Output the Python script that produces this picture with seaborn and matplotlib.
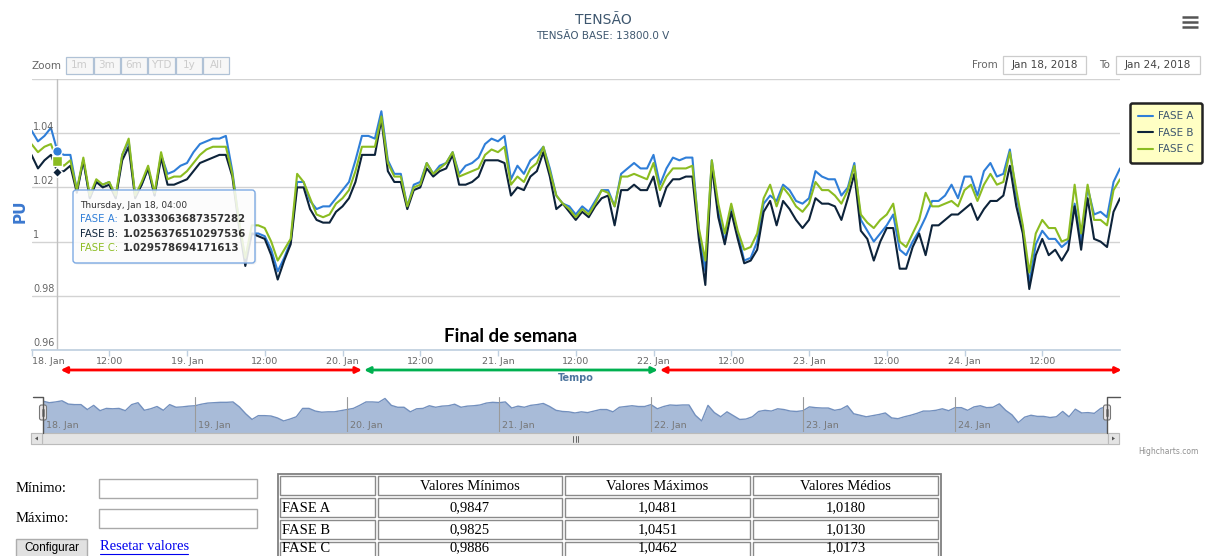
import pandas as pd
import matplotlib.pyplot as plt
import matplotlib.dates as mdates
from matplotlib.patches import Rectangle, FancyBboxPatch, Polygon
import seaborn as sns

W, H = 1205, 556

# Tensão em PU, uma leitura por hora desde 18/01/2018 00:00
fase_a = [1.041, 1.037, 1.039, 1.042, 1.0333063687357282, 1.032, 1.032, 1.019, 1.030, 1.016, 1.022, 1.021,
          1.022, 1.016, 1.032, 1.037, 1.017, 1.021, 1.027, 1.017, 1.032, 1.025, 1.026, 1.028,
          1.029, 1.033, 1.036, 1.037, 1.038, 1.038, 1.039, 1.026, 1.008, 0.993, 1.003, 1.003,
          1.002, 0.997, 0.989, 0.994, 1.000, 1.022, 1.022, 1.015, 1.012, 1.013, 1.013, 1.016,
          1.019, 1.022, 1.030, 1.039, 1.039, 1.038, 1.0481, 1.030, 1.025, 1.025, 1.013, 1.021,
          1.022, 1.029, 1.025, 1.028, 1.029, 1.033, 1.025, 1.028, 1.029, 1.031, 1.036, 1.038,
          1.037, 1.039, 1.023, 1.028, 1.025, 1.030, 1.032, 1.035, 1.027, 1.017, 1.014, 1.013,
          1.010, 1.013, 1.011, 1.015, 1.019, 1.019, 1.013, 1.025, 1.027, 1.029, 1.027, 1.027,
          1.032, 1.021, 1.027, 1.031, 1.030, 1.031, 1.031, 1.004, 0.989, 1.030, 1.011, 1.000,
          1.013, 1.003, 0.993, 0.994, 1.000, 1.014, 1.017, 1.015, 1.021, 1.019, 1.015, 1.014,
          1.016, 1.026, 1.024, 1.023, 1.023, 1.017, 1.020, 1.029, 1.008, 1.004, 1.000, 1.003,
          1.006, 1.010, 0.997, 0.995, 1.000, 1.004, 1.009, 1.015, 1.015, 1.017, 1.021, 1.016,
          1.024, 1.024, 1.017, 1.026, 1.029, 1.024, 1.025, 1.034, 1.017, 1.005, 0.9847, 0.999,
          1.004, 1.001, 1.001, 0.998, 1.000, 1.014, 1.000, 1.020, 1.010, 1.011, 1.009, 1.022,
          1.027]
fase_b = [1.032, 1.027, 1.030, 1.032, 1.0256376510297536, 1.026, 1.028, 1.018, 1.030, 1.016, 1.022, 1.020,
          1.021, 1.016, 1.030, 1.035, 1.016, 1.021, 1.027, 1.017, 1.031, 1.021, 1.021, 1.022,
          1.023, 1.026, 1.029, 1.030, 1.031, 1.032, 1.032, 1.024, 1.006, 0.991, 1.003, 1.002,
          1.001, 0.995, 0.986, 0.993, 0.999, 1.020, 1.020, 1.012, 1.008, 1.007, 1.007, 1.011,
          1.013, 1.016, 1.022, 1.032, 1.032, 1.032, 1.0451, 1.026, 1.022, 1.022, 1.012, 1.019,
          1.020, 1.027, 1.024, 1.026, 1.027, 1.032, 1.021, 1.021, 1.022, 1.024, 1.030, 1.030,
          1.030, 1.029, 1.017, 1.020, 1.019, 1.024, 1.026, 1.033, 1.024, 1.012, 1.014, 1.011,
          1.008, 1.011, 1.009, 1.013, 1.016, 1.017, 1.006, 1.019, 1.019, 1.021, 1.019, 1.019,
          1.024, 1.013, 1.020, 1.023, 1.023, 1.024, 1.024, 1.001, 0.984, 1.028, 1.009, 0.999,
          1.011, 1.001, 0.992, 0.993, 0.997, 1.011, 1.015, 1.006, 1.015, 1.012, 1.008, 1.005,
          1.008, 1.016, 1.014, 1.014, 1.013, 1.008, 1.016, 1.025, 1.004, 1.001, 0.993, 1.000,
          1.005, 1.005, 0.990, 0.990, 0.998, 1.003, 0.995, 1.006, 1.006, 1.008, 1.010, 1.010,
          1.012, 1.014, 1.008, 1.012, 1.015, 1.015, 1.017, 1.028, 1.013, 1.003, 0.9825, 0.995,
          1.001, 0.995, 0.997, 0.993, 0.997, 1.013, 0.997, 1.016, 1.001, 1.000, 0.998, 1.011,
          1.016]
fase_c = [1.036, 1.033, 1.035, 1.036, 1.029578694171613, 1.028, 1.030, 1.019, 1.031, 1.017, 1.023, 1.021,
          1.022, 1.017, 1.032, 1.038, 1.017, 1.022, 1.028, 1.018, 1.033, 1.023, 1.024, 1.024,
          1.026, 1.029, 1.032, 1.034, 1.035, 1.035, 1.035, 1.025, 1.008, 0.994, 1.006, 1.006,
          1.005, 1.000, 0.993, 0.997, 1.001, 1.025, 1.022, 1.016, 1.010, 1.009, 1.010, 1.014,
          1.016, 1.019, 1.026, 1.035, 1.035, 1.035, 1.0462, 1.029, 1.024, 1.024, 1.013, 1.020,
          1.021, 1.029, 1.025, 1.027, 1.029, 1.033, 1.024, 1.025, 1.026, 1.027, 1.032, 1.034,
          1.033, 1.035, 1.021, 1.024, 1.022, 1.027, 1.029, 1.035, 1.026, 1.017, 1.014, 1.012,
          1.009, 1.012, 1.010, 1.014, 1.019, 1.018, 1.013, 1.024, 1.024, 1.025, 1.024, 1.023,
          1.029, 1.019, 1.024, 1.027, 1.027, 1.027, 1.028, 1.005, 0.993, 1.030, 1.014, 1.003,
          1.014, 1.004, 0.997, 0.998, 1.003, 1.016, 1.021, 1.013, 1.020, 1.017, 1.013, 1.011,
          1.014, 1.022, 1.019, 1.019, 1.017, 1.014, 1.019, 1.028, 1.010, 1.007, 1.005, 1.008,
          1.010, 1.014, 1.000, 0.998, 1.003, 1.008, 1.018, 1.013, 1.013, 1.014, 1.015, 1.013,
          1.019, 1.021, 1.015, 1.021, 1.025, 1.021, 1.022, 1.033, 1.019, 1.006, 0.9886, 1.003,
          1.008, 1.005, 1.005, 1.000, 1.001, 1.021, 1.003, 1.021, 1.008, 1.008, 1.006, 1.019,
          1.023]
tempo = pd.date_range("2018-01-18 00:00", periods=len(fase_a), freq="h")

dias = pd.date_range("2018-01-18", "2018-01-24", freq="D")
marcas_x = pd.date_range("2018-01-18", "2018-01-24 12:00", freq="12h")
rotulos_x = [f"{t.day}. Jan" if t.hour == 0 else "12:00" for t in marcas_x]
niveis_y = [0.96, 0.98, 1.00, 1.02, 1.04, 1.06]
rotulos_y = ["0.96", "0.98", "1", "1.02", "1.04", ""]

# periodos: dias uteis / final de semana
setas = [("2018-01-18 04:30", "2018-01-20 03:00", "#FF0000"),
         ("2018-01-20 03:20", "2018-01-22 00:40", "#00B050"),
         ("2018-01-22 01:00", "2018-01-25 00:15", "#FF0000")]

linhas_tab = ["FASE A", "FASE B", "FASE C"]
cab_tab = ["", "Valores Mínimos", "Valores Máximos", "Valores Médios"]
minimos = ["0,9847", "0,9825", "0,9886"]
maximos = ["1,0481", "1,0451", "1,0462"]
medios = ["1,0180", "1,0130", "1,0173"]

cores = {"FASE A": "#2f7ed8", "FASE B": "#0d233a", "FASE C": "#8bbc21"}

sns.set_theme(style="white")
plt.rcParams["font.family"] = ["DejaVu Sans"]

fig = plt.figure(figsize=(W / 100, H / 100), dpi=100)
fig.patch.set_facecolor("white")


def caixa(x0, y0, x1, y1):
    return [x0 / W, 1 - y1 / H, (x1 - x0) / W, (y1 - y0) / H]


def num(t):
    return mdates.date2num(pd.Timestamp(t).to_pydatetime())


# --- grafico principal ---
ax = fig.add_axes(caixa(31.5, 79, 1120, 350))
df = pd.DataFrame({"Tempo": tempo, "FASE A": fase_a, "FASE B": fase_b, "FASE C": fase_c})
df_long = df.melt(id_vars="Tempo", var_name="Fase", value_name="PU")
sns.lineplot(data=df_long, x="Tempo", y="PU", hue="Fase", palette=cores, linewidth=1.5, ax=ax)

ax.set_xlim(num("2018-01-18"), num("2018-01-25"))
ax.set_ylim(0.96, 1.06)
ax.set_yticks(niveis_y)
ax.yaxis.grid(True, color="#D3D3D3", lw=1)
ax.tick_params(axis="y", left=False, labelleft=False)
for v, r in zip(niveis_y, rotulos_y):
    ax.annotate(r, xy=(0, v), xycoords=ax.get_yaxis_transform(), xytext=(1.2, 1.2),
                textcoords="offset points", ha="left", va="bottom", fontsize=7, color="#666666")

ax.set_xticks([num(t) for t in marcas_x])
ax.set_xticklabels(rotulos_x, fontsize=6.8, color="#666666")
ax.get_xticklabels()[0].set_ha("left")
ax.tick_params(axis="x", bottom=True, length=4, width=1, color="#C0D0E0", pad=1)
for s in ["top", "right", "left"]:
    ax.spines[s].set_visible(False)
ax.spines["bottom"].set_color("#C0D0E0")
ax.set_xlabel("")
ax.set_ylabel("")

# crosshair + marcadores do ponto do tooltip
ax.axvline(tempo[4], color="#C0C0C0", lw=1, zorder=1.5)
ax.plot([tempo[4]], [fase_a[4]], marker="o", ms=7, color=cores["FASE A"], mec="white", mew=1, zorder=5)
ax.plot([tempo[4]], [fase_b[4]], marker="D", ms=5.5, color=cores["FASE B"], mec="white", mew=1, zorder=5)
ax.plot([tempo[4]], [fase_c[4]], marker="s", ms=6.5, color=cores["FASE C"], mec="white", mew=1, zorder=5)

for ini, fim, cor in setas:
    ax.annotate("", xy=(num(fim), H - 370), xytext=(num(ini), H - 370),
                xycoords=("data", "figure pixels"), annotation_clip=False,
                arrowprops=dict(arrowstyle="<|-|>", color=cor, lw=2, shrinkA=0, shrinkB=0,
                                mutation_scale=9))

sns.move_legend(ax, "upper left", bbox_to_anchor=(1130 / W, 1 - 103 / H),
                bbox_transform=fig.transFigure, title="", frameon=True, fancybox=True,
                facecolor="#FFFFC4", edgecolor="#222222", framealpha=1, fontsize=7.5,
                handlelength=1.4, handletextpad=0.5, borderpad=0.8, labelspacing=0.62,
                borderaxespad=0)
leg = ax.get_legend()
leg.get_frame().set_linewidth(1.8)
for t in leg.get_texts():
    t.set_color("#3E576F")

# --- navegador ---
nav = fig.add_axes(caixa(43, 397, 1107, 432))
nav.fill_between(tempo, fase_a, 0.9, color="#A8BBD8", lw=0)
sns.lineplot(x=tempo, y=fase_a, color="#7390BE", lw=1, ax=nav)
nav.set_xlim(num("2018-01-18"), num("2018-01-25"))
nav.set_ylim(0.96, 1.052)
nav.set_xticks([])
nav.set_yticks([])
nav.set_xlabel("")
nav.set_ylabel("")
for s in nav.spines.values():
    s.set_visible(False)
for d in dias:
    nav.axvline(num(d), color="#9A9A9A", lw=0.8, zorder=3)
    nav.annotate(f"{d.day}. Jan", xy=(num(d), 0), xycoords=nav.get_xaxis_transform(),
                 xytext=(2.2, 1.2), textcoords="offset points", ha="left", va="bottom",
                 fontsize=6.8, color="#777777")

# --- camada de texto / elementos da pagina (coordenadas em pixels) ---
ov = fig.add_axes([0, 0, 1, 1])
ov.set_xlim(0, W)
ov.set_ylim(H, 0)
ov.axis("off")
ov.set_zorder(10)
ov.patch.set_alpha(0)

ov.text(603, 20, "TENSÃO", ha="center", va="center", fontsize=10, color="#3E576F")
ov.text(603, 36, "TENSÃO BASE: 13800.0 V", ha="center", va="center", fontsize=7.5, color="#3E576F")
for yy in [17, 22, 27]:
    ov.plot([1182, 1198], [yy, yy], color="#555555", lw=1.8, solid_capstyle="butt")

ov.text(31, 66, "Zoom", ha="left", va="center", fontsize=7.5, color="#666666")
botoes = ["1m", "3m", "6m", "YTD", "1y", "All"]
bx = [66, 94, 121, 148, 176, 203, 230]
for i, b in enumerate(botoes):
    ov.add_patch(Rectangle((bx[i], 57), bx[i + 1] - bx[i] - 1, 17, fc="#F7F7F7", ec="#B0C2D6", lw=0.9))
    ov.text((bx[i] + bx[i + 1] - 1) / 2, 65.5, b, ha="center", va="center", fontsize=7.5, color="#CCCCCC")

ov.text(998, 65.5, "From", ha="right", va="center", fontsize=7.5, color="#666666")
ov.add_patch(Rectangle((1003, 56), 83, 18, fc="white", ec="#CCCCCC", lw=0.9))
ov.text(1044.5, 65.5, "Jan 18, 2018", ha="center", va="center", fontsize=7.6, color="#444444")
ov.text(1110, 65.5, "To", ha="right", va="center", fontsize=7.5, color="#666666")
ov.add_patch(Rectangle((1116, 56), 84, 18, fc="white", ec="#CCCCCC", lw=0.9))
ov.text(1158, 65.5, "Jan 24, 2018", ha="center", va="center", fontsize=7.6, color="#444444")

ov.text(20, 211, "PU", rotation=90, ha="center", va="center", fontsize=11, fontweight="bold", color="#3B78CF")
ov.text(511, 337, "Final de semana", ha="center", va="center", fontsize=13.5, fontweight="bold",
        color="black", family=["Lato", "DejaVu Sans"])
ov.text(576, 378, "Tempo", ha="center", va="center", fontsize=7, fontweight="bold", color="#4D759E")

# tooltip
ov.add_patch(FancyBboxPatch((74.5, 191.5), 182, 73, boxstyle="round,pad=0,rounding_size=3",
                            fc=(0, 0, 0, 0.06), ec="none"))
ov.add_patch(FancyBboxPatch((73, 190), 182, 73, boxstyle="round,pad=0,rounding_size=3",
                            fc=(1, 1, 1, 0.86), ec="#7DAAE3", lw=1))
ov.text(80, 206, "Thursday, Jan 18, 04:00", ha="left", va="center", fontsize=6.5, color="#333333")
for i, (nome, serie) in enumerate(zip(linhas_tab, [fase_a, fase_b, fase_c])):
    yy = 219.5 + 14.3 * i
    ov.text(80, yy, f"{nome}:", ha="left", va="center", fontsize=7.3, color=cores[nome])
    ov.text(122.5, yy, str(serie[4]), ha="left", va="center", fontsize=7.3, fontweight="bold", color="#333333")

# controles do navegador e barra de rolagem
ov.add_patch(Rectangle((31, 433), 1088, 11, fc="#EEEEEE", ec="#CCCCCC", lw=0.8))
ov.add_patch(Rectangle((42, 433), 1066, 11, fc="#E4E4E4", ec="#BBBBBB", lw=0.8))
ov.add_patch(Rectangle((31, 433), 11, 11, fc="#E4E4E4", ec="#BBBBBB", lw=0.8))
ov.add_patch(Rectangle((1108, 433), 11, 11, fc="#E4E4E4", ec="#BBBBBB", lw=0.8))
ov.add_patch(Polygon([(35, 438.5), (38, 436.5), (38, 440.5)], fc="#555555", ec="none"))
ov.add_patch(Polygon([(1115, 438.5), (1112, 436.5), (1112, 440.5)], fc="#555555", ec="none"))
for gx in [573, 575.5, 578]:
    ov.plot([gx, gx], [436, 441.5], color="#666666", lw=0.7)
ov.plot([33, 43, 43], [396.5, 396.5, 432.5], color="#555555", lw=1)
ov.plot([1107, 1107, 1120], [432.5, 396.5, 396.5], color="#555555", lw=1)
for hx in [43, 1107]:
    ov.add_patch(FancyBboxPatch((hx - 3.5, 405), 7, 15, boxstyle="round,pad=0,rounding_size=2",
                                fc="#EBE7E8", ec="#777777", lw=0.8))
    ov.plot([hx - 1, hx - 1], [409, 416], color="#777777", lw=0.6)
    ov.plot([hx + 1, hx + 1], [409, 416], color="#777777", lw=0.6)
ov.text(1199, 452, "Highcharts.com", ha="right", va="center", fontsize=5.5, color="#909090")

# formulario
serif = ["Liberation Serif", "DejaVu Serif"]
ov.text(16, 489, "Mínimo:", ha="left", va="center", fontsize=10.5, family=serif, color="black")
ov.text(16, 519, "Máximo:", ha="left", va="center", fontsize=10.5, family=serif, color="black")
ov.add_patch(Rectangle((99, 479), 158, 19, fc="white", ec="#A9A9A9", lw=1))
ov.add_patch(Rectangle((99, 509), 158, 19, fc="white", ec="#A9A9A9", lw=1))
ov.add_patch(Rectangle((16, 539), 71, 19, fc="#E1E1E1", ec="#ADADAD", lw=1))
ov.text(51.5, 548, "Configurar", ha="center", va="center", fontsize=8.5,
        family=["Liberation Sans", "DejaVu Sans"], color="black")
ov.text(100, 547, "Resetar valores", ha="left", va="center", fontsize=10.5, family=serif, color="#0000EE")
ov.plot([100, 188], [553.5, 553.5], color="#0000EE", lw=0.8)

# tabela de resumo
ov.add_patch(Rectangle((277.5, 473.5), 663, 90, fc="white", ec="#808080", lw=1.3))
col_x = [(280, 375), (378, 562), (565, 750), (753, 938)]
lin_y = [(476, 495), (498, 517), (520, 539), (542, 561)]
txt_y = [486, 508, 530, 548]
tabela = [cab_tab] + [[n, mi, ma, me] for n, mi, ma, me in zip(linhas_tab, minimos, maximos, medios)]
for r, (y0, y1) in enumerate(lin_y):
    for c, (x0, x1) in enumerate(col_x):
        ov.add_patch(Rectangle((x0, y0), x1 - x0, y1 - y0, fc="white", ec="#8A8A8A", lw=1))
        txt = tabela[r][c]
        if c == 0:
            ov.text(x0 + 2, txt_y[r], txt, ha="left", va="center", fontsize=10.5,
                    family=serif, color="black")
        else:
            ov.text((x0 + x1) / 2, txt_y[r], txt, ha="center", va="center", fontsize=10.5,
                    family=serif, color="black")

fig.savefig("out.png", dpi=100, facecolor="white")
